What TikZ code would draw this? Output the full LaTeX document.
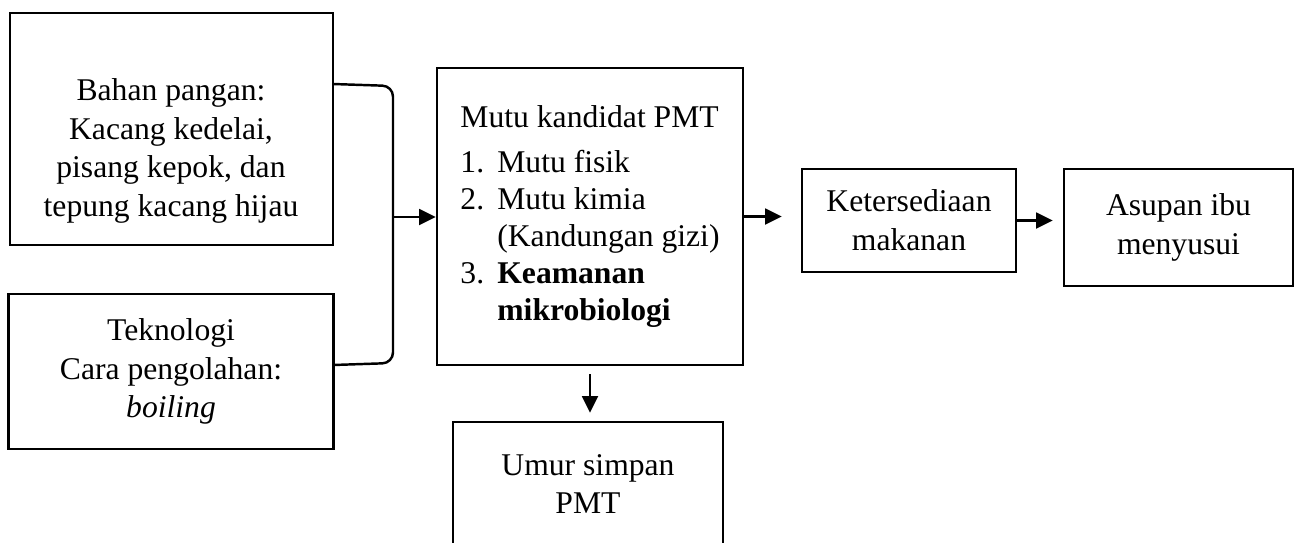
\documentclass[tikz,border=0pt]{standalone}
\usepackage{fontspec}
\setmainfont{Liberation Serif}
\usetikzlibrary{arrows.meta}
\tikzset{
  box/.style={draw=black, line width=1.4pt, inner sep=0pt, align=center, font=\fontsize{18}{22}\selectfont},
  txt/.style={inner sep=0pt, align=center, font=\fontsize{18}{22}\selectfont},
  link/.style={draw=black, line width=1.4pt},
  arr/.style={link, -{Triangle[length=9.5pt, width=9pt]}},
}

\begin{document}
\begin{tikzpicture}[x=0.02cm, y=-0.02cm]
  \useasboundingbox (0,0) rectangle (1295,542);
  \clip (0,0) rectangle (1295,542);
  % inputs
  \node[box, minimum width=6.46cm, minimum height=4.64cm] (bahan) at (171.5,129) {};
  \node[txt] (bahanT) at (171,151) {Bahan pangan:\\Kacang kedelai,\\pisang kepok, dan\\tepung kacang hijau};
  \node[box, minimum width=6.5cm, minimum height=3.1cm] (tekno) at (171,371.5) {Teknologi\\Cara pengolahan:\\\textit{boiling}};
  % quality box
  \node[box, minimum width=6.12cm, minimum height=5.94cm, align=left, font=\fontsize{18}{21}\selectfont] (mutu) at (590,216.5)
    {Mutu kandidat PMT\\[4.5pt]
     \makebox[21pt][l]{1.}Mutu fisik\\
     \makebox[21pt][l]{2.}Mutu kimia\\
     \hspace*{21pt}(Kandungan gizi)\\
     \makebox[21pt][l]{3.}\textbf{Keamanan}\\
     \hspace*{21pt}\textbf{mikrobiologi}};
  \node[box, minimum width=5.4cm, minimum height=2.48cm] (umur) at (588,484) {Umur simpan\\PMT};
  \node[box, minimum width=4.28cm, minimum height=2.06cm] (sedia) at (909,220.5) {Ketersediaan\\makanan};
  \node[box, minimum width=4.58cm, minimum height=2.34cm] (asupan) at (1178.5,227.5) {Asupan ibu\\menyusui};
  % bracket
  \coordinate (brTop) at (333,84);
  \coordinate (brBot) at (333,365);
  \coordinate (brMid) at (393,217);
  \draw[link, rounded corners=6pt] (brTop) -- (393,86) -- (393,363) -- (brBot);
  \draw[arr] (brMid) -- (brMid -| mutu.west);
  % arrows
  \draw[arr, shorten >=0.38cm] (mutu.east) -- (mutu.east -| sedia.west);
  \draw[arr, shorten >=0.2cm] (sedia.east) -- (sedia.east -| asupan.west);
  \draw[arr, shorten <=0.16cm, shorten >=0.16cm] (mutu.south) -- (mutu.south |- umur.north);
\end{tikzpicture}
\end{document}
